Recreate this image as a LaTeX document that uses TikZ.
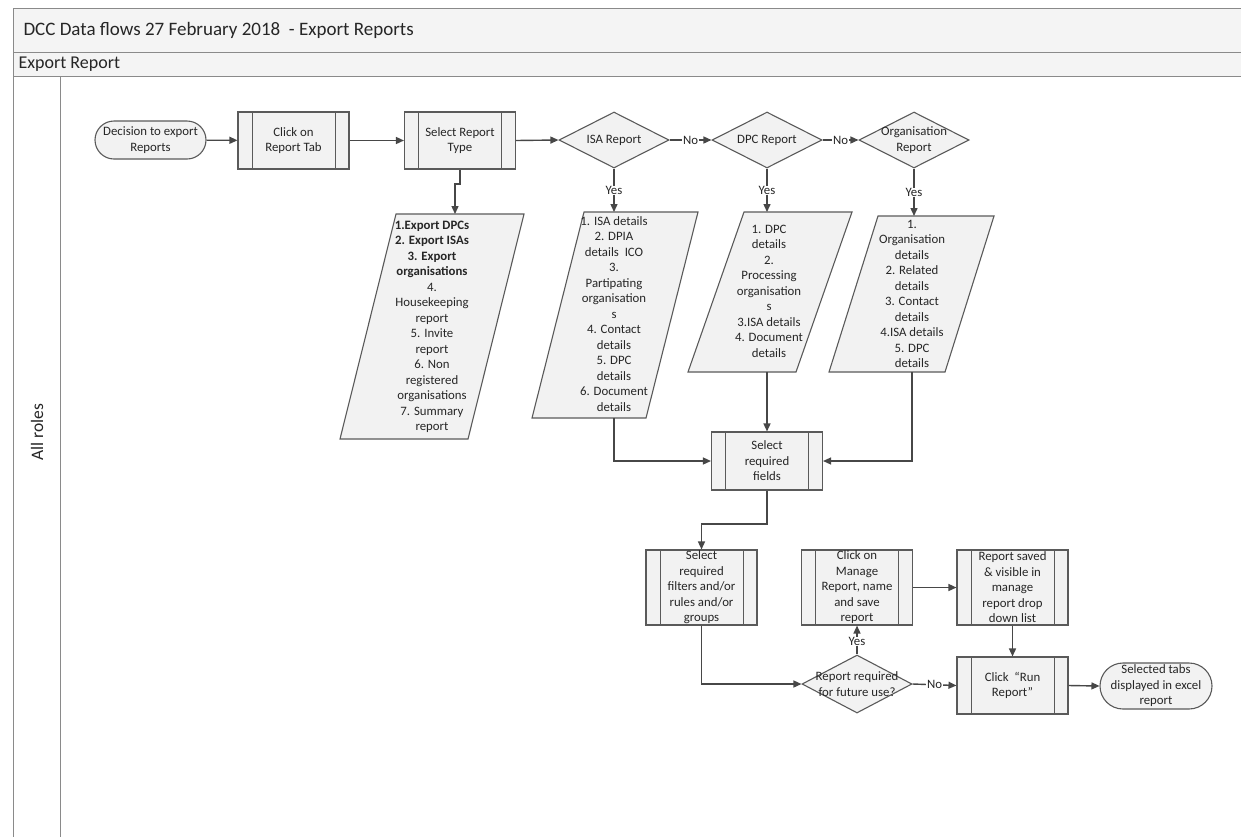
\documentclass[tikz,border=0pt]{standalone}
\usepackage{fontspec}
\setmainfont{Carlito}
\usetikzlibrary{shapes.geometric,arrows.meta}
\definecolor{ln}{HTML}{474747}
\definecolor{bd}{HTML}{5A5A5A}
\definecolor{fl}{HTML}{F2F2F2}
\definecolor{fr}{HTML}{8A8A8A}
\definecolor{bar}{HTML}{F4F4F4}
\begin{document}
\begin{tikzpicture}[x=1pt,y=-1pt,
  every node/.style={font=\fontsize{12.8}{15.5}\selectfont, text=black!85},
  shp/.style={draw=bd, fill=fl, line width=1.1pt},
  proc/.style={shp, minimum width=111pt, minimum height=57pt, align=center, inner xsep=1pt, inner ysep=0pt,
    path picture={
      \draw[bd,line width=1pt] ([xshift=14pt]path picture bounding box.north west) -- ([xshift=14pt]path picture bounding box.south west);
      \draw[bd,line width=1pt] ([xshift=-14pt]path picture bounding box.north east) -- ([xshift=-14pt]path picture bounding box.south east);}},
  term/.style={shp, align=center, inner sep=0pt},
  dec/.style={shp, diamond, minimum width=110pt, minimum height=56pt, inner sep=0pt},
  txt/.style={align=center, inner sep=0pt},
  conn/.style={draw=ln, line width=1.4pt, -{Triangle[length=8pt,width=7pt]}},
  lbl/.style={fill=white, inner sep=0.6pt},
  frame/.style={draw=fr, line width=1pt}
]
\useasboundingbox (0,0) rectangle (1241,836);
% frame
\fill[white] (0,0) rectangle (1241,836);
\draw[frame, fill=bar] (13,8) rectangle (1260,52);
\draw[frame, fill=bar] (13,52) rectangle (1260,76);
\draw[frame] (13,76) rectangle (60,860);
\node[anchor=west, font=\fontsize{19}{21}\selectfont] (title) at (20,30.5) {DCC Data flows 27 February 2018\ \ - Export Reports};
\node[anchor=west, font=\fontsize{18}{20}\selectfont] (pool) at (15,64.5) {Export Report};
\node[rotate=90, font=\fontsize{17.5}{19}\selectfont] (lane) at (37,432) {All roles};

% top row
\node[term, minimum width=111pt, minimum height=38pt, rounded corners=19pt] (start) at (150.5,140) {Decision to export\\Reports};
\node[proc] (tab) at (293.5,140.5) {Click on\\Report Tab};
\node[proc] (type) at (460,140.5) {Select Report\\Type};
\node[dec] (isa) at (614,140) {};
\node[txt] (isat) at (isa) {ISA Report};
\node[dec] (dpc) at (767,140) {};
\node[txt] (dpct) at (dpc) {DPC Report};
\node[dec] (org) at (914,140) {};
\node[txt] (orgt) at (org) {Organisation\\Report};

% parallelograms
\draw[shp] (396,214) -- (524,214) -- (468,439) -- (340,439) -- cycle;
\node[txt] (p1) at (432,327) {\textbf{1.Export DPCs}\\\textbf{2. Export ISAs}\\\textbf{3. Export}\\\textbf{organisations}\\4.\\Housekeeping\\report\\5. Invite\\report\\6. Non\\registered\\organisations\\7. Summary\\report};
\draw[shp] (584,212) -- (698,212) -- (646,418) -- (532,418) -- cycle;
\node[txt] (p2) at (614,314) {1. ISA details\\2. DPIA\\details\ \ ICO\\3.\\Partipating\\organisation\\s\\4. Contact\\details\\5. DPC\\details\\6. Document\\details};
\draw[shp] (744,212) -- (852,212) -- (796,372) -- (688,372) -- cycle;
\node[txt] (p3) at (769,291) {1. DPC\\details\\2.\\Processing\\organisation\\s\\3.ISA details\\4. Document\\details};
\draw[shp] (878,216) -- (994,216) -- (945,372) -- (829,372) -- cycle;
\node[txt] (p4) at (912,294) {1.\\Organisation\\details\\2. Related\\details\\3. Contact\\details\\4.ISA details\\5. DPC\\details};
\coordinate (p1t) at (455,214);
\coordinate (j1) at (460,184);
\coordinate (j2) at (455,184);
\coordinate (p2t) at (614,212);
\coordinate (p3t) at (767,212);
\coordinate (p4t) at (914,216);
\coordinate (p2b) at (614,418);
\coordinate (p3b) at (767,372);
\coordinate (p4b) at (912,372);

% lower nodes
\node[proc, minimum height=58pt] (fields) at (767,461) {Select\\required\\fields};
\node[proc, minimum height=75pt] (filters) at (701.5,587.5) {Select\\required\\filters and/or\\rules and/or\\groups};
\node[proc, minimum height=75pt] (manage) at (857,587.5) {Click on\\Manage\\Report, name\\and save\\report};
\node[proc, minimum height=75pt] (saved) at (1012.5,587.5) {Report saved\\\& visible in\\manage\\report drop\\down list};
\node[dec, minimum height=58pt] (future) at (857,684) {};
\node[txt] (futuret) at (future) {Report required\\for future use?};
\node[proc] (run) at (1012.5,685.5) {Click\ \ “Run\\Report”};
\node[term, minimum width=112pt, minimum height=46pt, rounded corners=23pt] (end) at (1156,686) {Selected tabs\\displayed in excel\\report};
\coordinate (j3) at (767,524);

% connectors
\draw[conn] (start) -- (tab);
\draw[conn] (tab) -- (type);
\draw[conn] (type.east) -- (isa.west);
\draw[conn] (isa.east) -- node[lbl] {No} (dpc.west);
\draw[conn] (dpc.east) -- node[lbl] {No} (org.west);
\draw[conn] (type.south) -- (j1) -- (j2) -- (p1t);
\draw[conn] (isa.south) -- node[lbl] {Yes} (p2t);
\draw[conn] (dpc.south) -- node[lbl] {Yes} (p3t);
\draw[conn] (org.south) -- node[lbl] {Yes} (p4t);
\draw[conn] (p2b) |- (fields.west);
\draw[conn] (p3b) -- (fields.north);
\draw[conn] (p4b) |- (fields.east);
\draw[conn] (fields.south) -- (j3) -| (filters.north);
\draw[conn] (filters.south) |- (future.west);
\draw[conn] (future.north) -- node[lbl, pos=0.45] {Yes} (manage.south);
\draw[conn] (manage.east) -- (saved.west);
\draw[conn] (saved.south) -- (run.north);
\draw[conn] (future.east) -- node[lbl] {No} (run.west);
\draw[conn] (run.east) -- (end.west);
\end{tikzpicture}
\end{document}
